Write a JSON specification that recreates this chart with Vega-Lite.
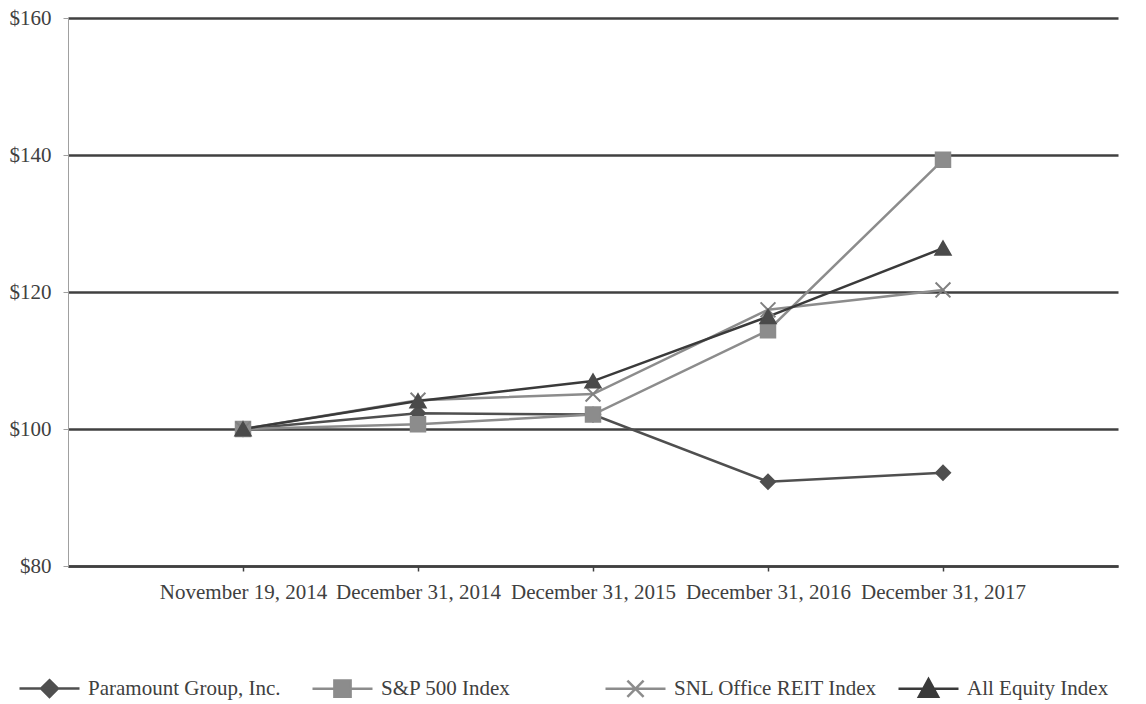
{
  "$schema": "https://vega.github.io/schema/vega-lite/v6.json",
  "width": 1050,
  "height": 548,
  "autosize": "none",
  "padding": {"left": 68, "top": 18, "right": 28, "bottom": 138},
  "background": "white",
  "config": {
    "view": {"stroke": null},
    "font": "Liberation Serif",
    "axis": {"labelFont": "Liberation Serif", "labelFontSize": 21, "labelColor": "#404040"},
    "legend": {"labelFont": "Liberation Serif", "labelFontSize": 21, "labelColor": "#404040", "labelLimit": 400}
  },
  "data": {
    "values": [
      {"date": "November 19, 2014", "series": "Paramount Group, Inc.", "value": 100},
      {"date": "December 31, 2014", "series": "Paramount Group, Inc.", "value": 102.3},
      {"date": "December 31, 2015", "series": "Paramount Group, Inc.", "value": 102.1},
      {"date": "December 31, 2016", "series": "Paramount Group, Inc.", "value": 92.3},
      {"date": "December 31, 2017", "series": "Paramount Group, Inc.", "value": 93.6},
      {"date": "November 19, 2014", "series": "S&P 500 Index", "value": 100},
      {"date": "December 31, 2014", "series": "S&P 500 Index", "value": 100.7},
      {"date": "December 31, 2015", "series": "S&P 500 Index", "value": 102.1},
      {"date": "December 31, 2016", "series": "S&P 500 Index", "value": 114.4},
      {"date": "December 31, 2017", "series": "S&P 500 Index", "value": 139.3},
      {"date": "November 19, 2014", "series": "SNL Office REIT Index", "value": 100},
      {"date": "December 31, 2014", "series": "SNL Office REIT Index", "value": 104.2},
      {"date": "December 31, 2015", "series": "SNL Office REIT Index", "value": 105.1},
      {"date": "December 31, 2016", "series": "SNL Office REIT Index", "value": 117.4},
      {"date": "December 31, 2017", "series": "SNL Office REIT Index", "value": 120.3},
      {"date": "November 19, 2014", "series": "All Equity Index", "value": 100},
      {"date": "December 31, 2014", "series": "All Equity Index", "value": 104.1},
      {"date": "December 31, 2015", "series": "All Equity Index", "value": 107.0},
      {"date": "December 31, 2016", "series": "All Equity Index", "value": 116.4},
      {"date": "December 31, 2017", "series": "All Equity Index", "value": 126.4}
    ]
  },
  "encoding": {
    "x": {
      "field": "date", "type": "ordinal", "sort": null,
      "scale": {"type": "point", "padding": 1},
      "axis": {
        "title": null, "labelAngle": 0, "domainColor": "#404040", "domainWidth": 2.5,
        "tickColor": "#404040", "tickWidth": 1.5, "tickSize": 5, "labelPadding": 10
      }
    },
    "y": {
      "field": "value", "type": "quantitative",
      "scale": {"domain": [80, 160], "nice": false, "zero": false},
      "axis": {
        "title": null, "values": [80, 100, 120, 140, 160], "labelExpr": "'$' + datum.value",
        "grid": true, "gridColor": "#404040", "gridWidth": 2.5,
        "domainColor": "#a0a0a0", "domainWidth": 1, "tickColor": "#a0a0a0", "tickSize": 5, "labelPadding": 12
      }
    }
  },
  "resolve": {"scale": {"color": "independent", "shape": "independent", "size": "independent", "stroke": "independent"}, "legend": {"color": "independent", "shape": "independent"}},
  "layer": [
    {
      "mark": {"type": "line", "strokeWidth": 2.5},
      "encoding": {
        "color": {
          "field": "series", "type": "nominal",
          "scale": {
            "domain": ["Paramount Group, Inc.", "S&P 500 Index", "SNL Office REIT Index", "All Equity Index"],
            "range": ["#4f4f4f", "#8c8c8c", "#8c8c8c", "#3a3a3a"]
          },
          "legend": {
            "title": null,
            "orient": "none",
            "legendX": -50,
            "legendY": 639,
            "direction": "horizontal",
            "columns": 4,
            "columnPadding": 15,
            "gridAlign": "all",
            "symbolSize": 3600,
            "symbolStrokeWidth": 2.5,
            "labelOffset": 7,
            "encode": {
              "symbols": {
                "update": {
                  "shape": {"signal": "datum.value === 'Paramount Group, Inc.' ? 'M-1,0H1M0,-0.28L0.28,0L0,0.28L-0.28,0Z' : datum.value === 'S&P 500 Index' ? 'M-1,0H1M-0.27,-0.27H0.27V0.27H-0.27Z' : datum.value === 'SNL Office REIT Index' ? 'M-1,0H1M-0.27,-0.27L0.27,0.27M-0.27,0.27L0.27,-0.27' : 'M-1,0H1M0,-0.32L0.32,0.27H-0.32Z'"},
                  "fill": {"signal": "datum.value === 'Paramount Group, Inc.' ? '#4f4f4f' : datum.value === 'All Equity Index' ? '#3a3a3a' : '#8c8c8c'"},
                  "stroke": {"signal": "datum.value === 'Paramount Group, Inc.' ? '#4f4f4f' : datum.value === 'All Equity Index' ? '#3a3a3a' : '#8c8c8c'"},
                  "strokeWidth": {"value": 2.5},
                  "opacity": {"value": 1}
                }
              }
            }
          }
        }
      }
    },
    {
      "mark": {"type": "point", "filled": true, "opacity": 1, "strokeWidth": 2},
      "encoding": {
        "color": {
          "field": "series", "type": "nominal",
          "scale": {
            "domain": ["Paramount Group, Inc.", "S&P 500 Index", "SNL Office REIT Index", "All Equity Index"],
            "range": ["#4f4f4f", "#8c8c8c", "#8c8c8c", "#4a4a4a"]
          },
          "legend": null
        },
        "stroke": {
          "field": "series", "type": "nominal",
          "scale": {
            "domain": ["Paramount Group, Inc.", "S&P 500 Index", "SNL Office REIT Index", "All Equity Index"],
            "range": ["#4f4f4f", "#8c8c8c", "#808080", "#4a4a4a"]
          },
          "legend": null
        },
        "size": {
          "field": "series", "type": "nominal",
          "scale": {
            "domain": ["Paramount Group, Inc.", "S&P 500 Index", "SNL Office REIT Index", "All Equity Index"],
            "range": [200, 230, 300, 260]
          },
          "legend": null
        },
        "shape": {
          "field": "series", "type": "nominal",
          "scale": {
            "domain": ["Paramount Group, Inc.", "S&P 500 Index", "SNL Office REIT Index", "All Equity Index"],
            "range": ["diamond", "square", "M-1,-1L1,1M-1,1L1,-1", "triangle-up"]
          },
          "legend": null
        }
      }
    }
  ]
}
